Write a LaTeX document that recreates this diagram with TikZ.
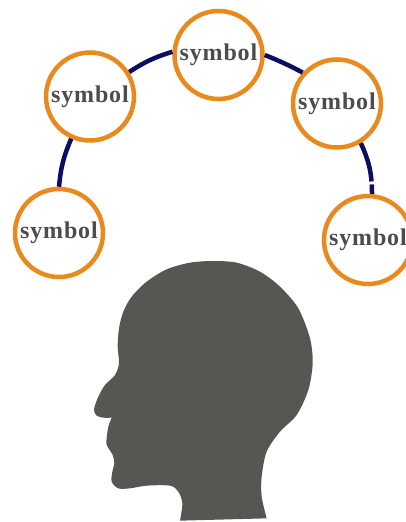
\documentclass[tikz,border=0pt]{standalone}
\usepackage{fontspec}
\setmainfont{Liberation Serif}[LetterSpace=3.5]
\definecolor{ringc}{HTML}{E88A1E}
\definecolor{linkc}{HTML}{0C0C60}
\definecolor{headc}{HTML}{575652}
\definecolor{textc}{HTML}{4C4C4C}
\tikzset{
  sym/.style={circle,draw=ringc,line width=4.5pt,fill=white,minimum size=88pt,inner sep=0pt,text=textc,
    font=\fontsize{24}{24}\selectfont\bfseries},
  link/.style={draw=linkc,line width=4.5pt}
}
\begin{document}
\begin{tikzpicture}[x=1pt,y=-1pt]
\useasboundingbox (0,0) rectangle (406,522);
\begin{scope}[shift={(80,250)},x=0.33333pt,y=-0.33333pt]
\fill[headc] plot[smooth,tension=0.5] coordinates {(300,812) (307,760) (295,725) (270,707) (200,707) (150,715) (115,715) (95,695) (97,665) (103,640) (98,615) (80,585) (80,565) (85,530) (95,503)}
  -- plot[smooth,tension=0.5] coordinates {(95,503) (70,503) (50,497) (42,478) (55,440) (75,405) (105,375) (117,340) (113,290) (117,235) (130,185) (155,140) (200,95) (260,58) (330,38) (400,33) (470,38) (540,65) (600,110) (655,175) (690,265) (698,340) (685,420) (650,495) (600,545) (560,605) (545,680) (545,740) (560,805)} -- cycle;
\end{scope}
\node[sym] (a) at (59,233) {symbol};
\node[sym] (b) at (90,96.5) {symbol};
\node[sym] (c) at (218.5,55) {symbol};
\node[sym] (d) at (337,103.5) {symbol};
\node[sym] (e) at (368,240) {symbol};
\draw[link] (a.90) to[bend left=9] (b.246);
\draw[link] (b.32) to[bend left=8] (c.176);
\draw[link] (c.0) to[bend left=3] (d.138);
\draw[link,dash pattern=on 40pt off 3pt on 20pt] (d.-59) to[bend left=12] (e.85);
\end{tikzpicture}
\end{document}
